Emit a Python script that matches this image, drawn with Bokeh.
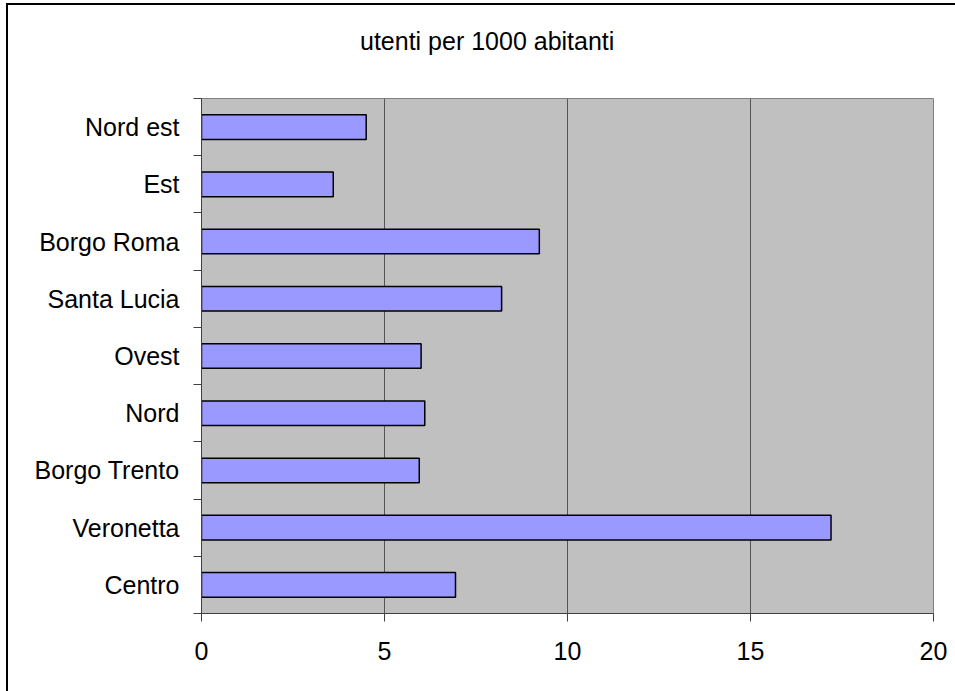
from bokeh.plotting import figure
from bokeh.models import FixedTicker, Range1d, ColumnDataSource, Div
from bokeh.layouts import column
from bokeh.embed import file_html
from bokeh.resources import INLINE

categories = ["Centro", "Veronetta", "Borgo Trento", "Nord", "Ovest",
              "Santa Lucia", "Borgo Roma", "Est", "Nord est"]
values = [6.94, 17.2, 5.95, 6.1, 6.0, 8.2, 9.23, 3.6, 4.5]
x_ticks = [0, 5, 10, 15, 20]
title_text = "utenti per 1000 abitanti"

FONT = "Liberation Sans"
FS = "25px"

ypos = [i + 0.5 for i in range(len(categories))]
src = ColumnDataSource(dict(y=ypos, v=values, cat=categories))

DIV_H = 60
title_div = Div(
    text=('<div style="margin-left:352px;margin-top:22px;font-family:\'Liberation Sans\';'
          'font-size:25px;line-height:29px;color:black;white-space:nowrap">'
          + title_text + '</div>'),
    width=947, height=DIV_H, margin=0)

p = figure(width=947, height=686 - DIV_H, output_backend="svg", toolbar_location=None,
           x_range=Range1d(0, 20), y_range=Range1d(0, len(categories)),
           min_border_left=193, min_border_right=22, min_border_top=93 - DIV_H,
           min_border_bottom=78, margin=0)

p.background_fill_color = "#C0C0C0"
p.border_fill_color = "white"
p.outline_line_color = "#808080"
p.outline_line_width = 1

p.hbar(y="y", right="v", left=0, height=0.43, source=src,
       fill_color="#9999FF", line_color="black", line_width=1.5)

# x axis
p.xaxis.ticker = FixedTicker(ticks=x_ticks)
p.xaxis.axis_line_color = "#404040"
p.xaxis.major_tick_line_color = "#404040"
p.xaxis.major_tick_out = 8
p.xaxis.major_tick_in = 0
p.xaxis.minor_tick_line_color = None
p.xaxis.major_label_text_font = FONT
p.xaxis.major_label_text_font_size = FS
p.xaxis.major_label_text_color = "black"
p.xaxis.major_label_standoff = 20

# y axis
p.yaxis.ticker = FixedTicker(ticks=ypos, minor_ticks=list(range(len(categories) + 1)))
p.yaxis.major_label_overrides = {y: c for y, c in zip(ypos, categories)}
p.yaxis.axis_line_color = "#404040"
p.yaxis.major_tick_line_color = None
p.yaxis.major_tick_out = 0
p.yaxis.major_tick_in = 0
p.yaxis.minor_tick_line_color = "#404040"
p.yaxis.minor_tick_out = 8
p.yaxis.minor_tick_in = 0
p.yaxis.major_label_text_font = FONT
p.yaxis.major_label_text_font_size = FS
p.yaxis.major_label_text_color = "black"
p.yaxis.major_label_standoff = 14

p.xgrid.grid_line_color = "#555555"
p.xgrid.grid_line_width = 1
p.ygrid.grid_line_color = None

layout = column(title_div, p, spacing=0)
layout.styles = {"border-left": "2px solid black", "border-top": "2px solid black",
                 "margin-left": "6px", "margin-top": "3px", "background-color": "white"}

open("out.html", "w").write(file_html(layout, INLINE))
